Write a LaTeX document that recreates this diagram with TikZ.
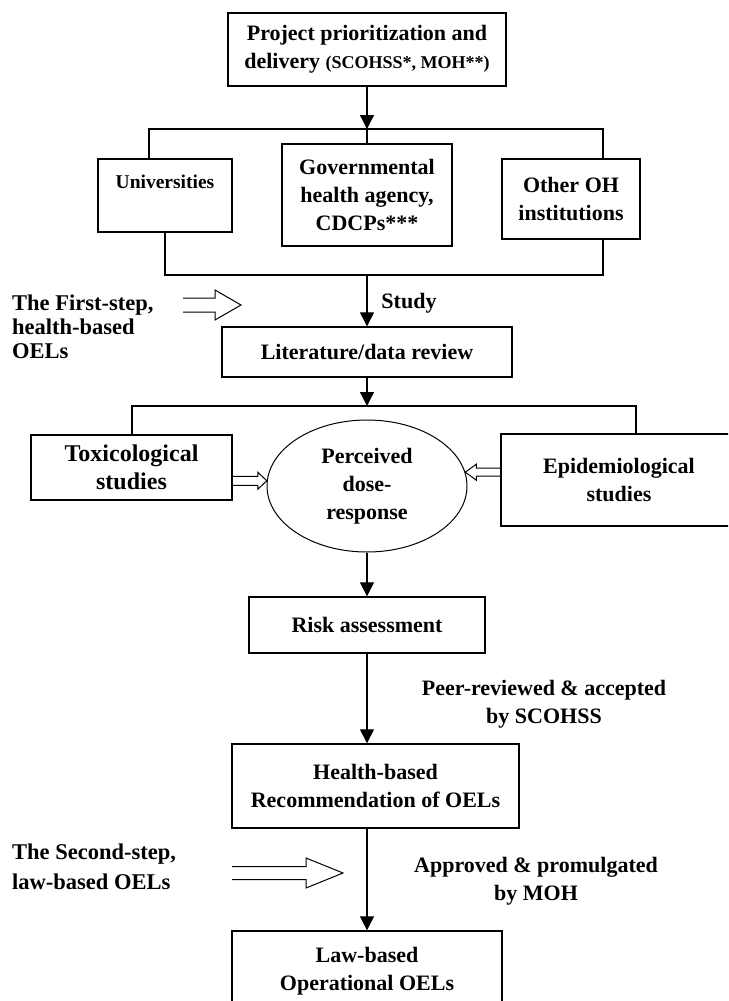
\documentclass[tikz,border=0pt]{standalone}
\usepackage{fontspec}
\setmainfont{Liberation Serif}
\usetikzlibrary{shapes,arrows.meta,calc}

% open block arrow: from, to, half shaft, half head, head offset
\newcommand{\hollowarrow}[5]{%
  \draw[hollow] ($(#1)+(0,#3)$) -- ($(#2)+(#5,#3)$) -- ($(#2)+(#5,#4)$) -- (#2)
    -- ($(#2)+(#5,-#4)$) -- ($(#2)+(#5,-#3)$) -- ($(#1)+(0,-#3)$);}

\begin{document}
\begin{tikzpicture}[x=1pt, y=-1pt,
  font=\fontsize{22}{28}\selectfont\bfseries,
  box/.style={draw, line width=1.4pt, inner sep=0pt, align=center},
  conn/.style={line width=1.3pt},
  arr/.style={conn, -{Triangle[length=14pt,width=14pt]}},
  hollow/.style={line width=1pt},
  lbl/.style={align=center, inner sep=0pt}]
\useasboundingbox (0,0) rectangle (728,1001);
\clip (0,0) rectangle (728,1001);

% Boxes
\node[box, minimum width=278pt, minimum height=73pt] (proj) at (367,49.5)
  {Project prioritization and\\delivery {\fontsize{18}{28}\selectfont(SCOHSS*, MOH**)}};
\node[box, minimum width=134pt, minimum height=73pt, font=\fontsize{19.5}{28}\selectfont\bfseries] (univ) at (165,195.5) {Universities\\\mbox{}};
\node[box, minimum width=170pt, minimum height=102pt] (gov) at (367,195) {Governmental\\health agency,\\CDCPs***};
\node[box, minimum width=138pt, minimum height=80pt] (otheroh) at (571,199) {Other OH\\institutions};
\node[box, minimum width=290pt, minimum height=50pt] (lit) at (367,352) {Literature/data review};
\node[box, minimum width=201pt, minimum height=65pt, font=\fontsize{24}{28}\selectfont\bfseries] (tox) at (131.5,467.5) {Toxicological\\studies};
\node[box, ellipse, line width=1pt, minimum width=200pt, minimum height=132pt] (dose) at (367,486) {Perceived\\dose-\\response};
\node[box, minimum width=236pt, minimum height=92pt] (epi) at (619,480) {Epidemiological\\studies};
\node[box, minimum width=236pt, minimum height=56pt] (risk) at (367,625) {Risk assessment};
\node[box, minimum width=287pt, minimum height=84pt] (hrec) at (375.5,786) {Health-based\\Recommendation of OELs};
\node[box, minimum width=270pt, minimum height=80pt] (law) at (367,971) {Law-based\\Operational OELs};

% Labels
\node[lbl] (study) at (409,303) {Study};
\node[lbl] (peer) at (544,704) {Peer-reviewed \& accepted\\by SCOHSS};
\node[lbl] (appr) at (536,881) {Approved \& promulgated\\by MOH};
\node[lbl, align=left, anchor=west, font=\fontsize{22.5}{24}\selectfont\bfseries] (first) at (12,327) {The First-step,\\health-based\\OELs};
\node[lbl, align=left, anchor=west, font=\fontsize{22.5}{30}\selectfont\bfseries] (second) at (12,867) {The Second-step,\\law-based OELs};

% Split to the three institutions
\coordinate (split1) at (367,129);
\coordinate (sl) at (149,129);
\coordinate (sr) at (603,129);
\draw[arr] (proj.south) -- (split1);
\draw[conn] (sl |- univ.north) -- (sl) -- (sr) -- (sr |- otheroh.north);
\draw[conn] (split1) -- (gov.north);

% Merge to the review
\coordinate (merge) at (367,275);
\coordinate (ml) at (165,275);
\coordinate (mr) at (603,275);
\draw[conn] (univ.south) -- (ml) -- (mr) -- (mr |- otheroh.south);
\draw[arr] (merge) -- (lit.north);

% Split to the studies
\coordinate (split2) at (367,406);
\coordinate (tl) at (132,406);
\coordinate (tr) at (636,406);
\draw[arr] (lit.south) -- (split2);
\draw[conn] (tl |- tox.north) -- (tl) -- (tr) -- (tr |- epi.north);

% Main line down
\draw[arr] (dose.south) -- (risk.north);
\draw[arr] (risk.south) -- (risk.south |- hrec.north);
\draw[arr] (law.north |- hrec.south) -- (law.north);

% Hollow arrows
\coordinate (tx) at (tox.east |- dose.177);
\hollowarrow{tx}{dose.177}{4.5}{8.5}{-9}
\coordinate (ex) at (epi.west |- dose.8);
\hollowarrow{ex}{dose.8}{4}{8}{11}
\coordinate (fs1) at (183,305);
\coordinate (fs2) at (241,305);
\hollowarrow{fs1}{fs2}{7}{15}{-26}
\coordinate (ss1) at (232,873);
\coordinate (ss2) at (343,873);
\hollowarrow{ss1}{ss2}{6.5}{15}{-37}

\end{tikzpicture}
\end{document}
